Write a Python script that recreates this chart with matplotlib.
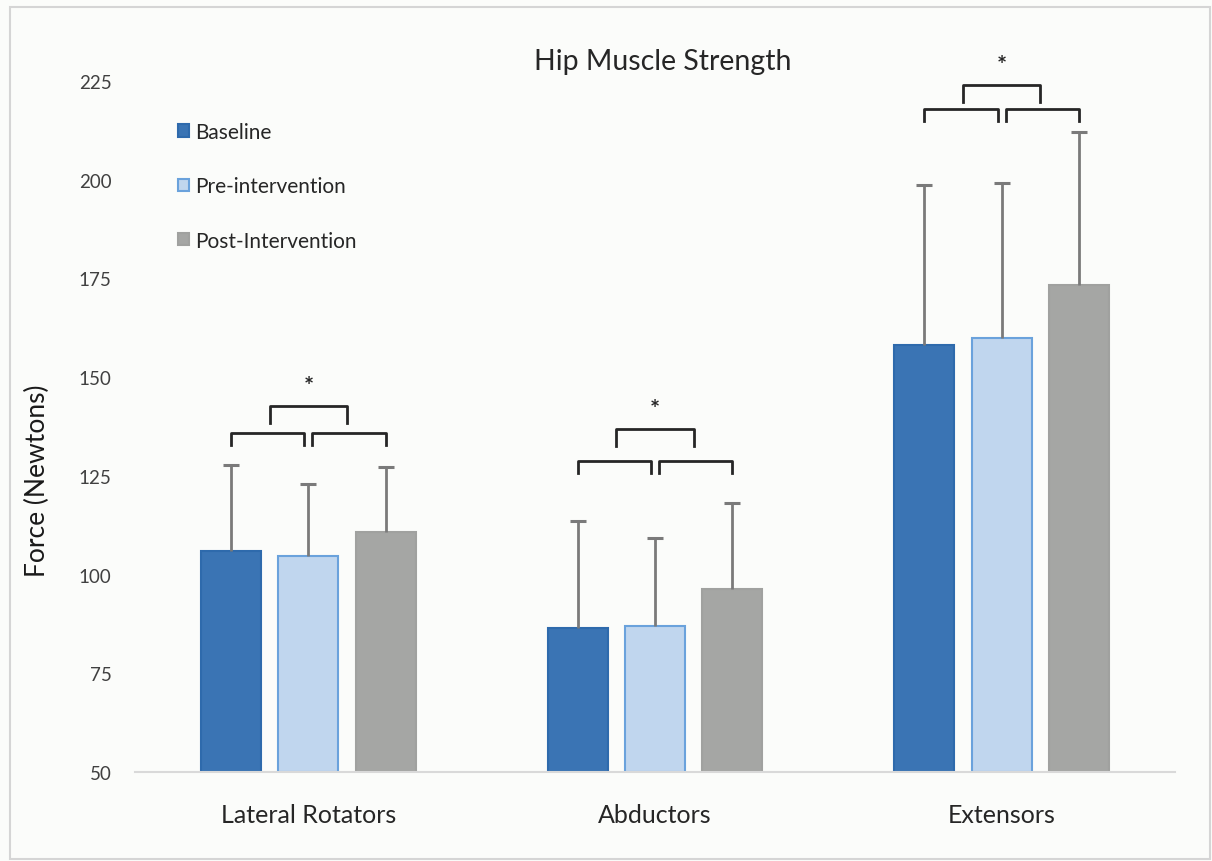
import matplotlib
matplotlib.use("Agg")
import matplotlib.pyplot as plt
from matplotlib.patches import Rectangle
import numpy as np

plt.rcParams['font.family'] = ['Lato', 'DejaVu Sans']

categories = ["Lateral Rotators", "Abductors", "Extensors"]
series = ["Baseline", "Pre-intervention", "Post-Intervention"]
baseline = [106.0, 86.5, 158.2]
pre_int = [104.7, 87.0, 159.9]
post_int = [110.8, 96.4, 173.4]
baseline_err = [21.8, 27.1, 40.5]
pre_err = [18.3, 22.3, 39.3]
post_err = [16.5, 21.7, 38.7]
bracket_low = [135.9, 128.8, 217.9]
bracket_high = [142.7, 136.9, 224.0]
yticks = [50, 75, 100, 125, 150, 175, 200, 225]

fills = ["#3a74b4", "#c0d6ee", "#a5a6a4"]
edges = ["#2e6aac", "#6aa2dc", "#a0a19f"]
bg = "#fbfcfa"

fig = plt.figure(figsize=(12.12, 8.62), dpi=100, facecolor=bg)
ax = fig.add_axes([135/1212, (862-773)/862, (1175-135)/1212, (773-82)/862])
ax.set_facecolor(bg)

x = np.arange(len(categories))
off = 0.223
w = 0.173
vals = [baseline, pre_int, post_int]
errs = [baseline_err, pre_err, post_err]
for i, (v, e) in enumerate(zip(vals, errs)):
    xs = x + (i - 1) * off
    v = np.array(v)
    top = v + np.array(e)
    ax.bar(xs, v - 50, bottom=50, width=w, color=fills[i], edgecolor=edges[i],
           linewidth=1.5, label=series[i], zorder=2)
    ax.vlines(xs, v, top, colors='#7a7a7a', linewidth=2, zorder=3)
    ax.plot(xs, top, linestyle='none', marker='_', markersize=12, markeredgewidth=2.2,
            color='#7a7a7a', zorder=3)

bc = '#262626'
for j in range(3):
    c0, c1, c2 = x[j] - off, x[j], x[j] + off
    yl = bracket_low[j]
    yh = bracket_high[j]
    dl = 3.0
    dh = 4.3
    gap = 0.012
    ax.plot([c0, c0, c1 - gap, c1 - gap], [yl - dl, yl, yl, yl - dl], color=bc, lw=2,
            solid_joinstyle='round', clip_on=False, zorder=4)
    ax.plot([c1 + gap, c1 + gap, c2, c2], [yl - dl, yl, yl, yl - dl], color=bc, lw=2,
            solid_joinstyle='round', clip_on=False, zorder=4)
    m0, m1 = (c0 + c1) / 2, (c1 + c2) / 2
    ax.plot([m0, m0, m1, m1], [yh - dh, yh, yh, yh - dh], color=bc, lw=2,
            solid_joinstyle='round', clip_on=False, zorder=4)
    ax.text(c1, yh + 5.0, "*", ha='center', va='center', fontsize=17, fontweight='bold',
            color='#262626', clip_on=False)

ax.set_xlim(-0.5, 2.5)
ax.set_ylim(50, 225)
ax.set_yticks(yticks)
ax.set_yticklabels([str(t) for t in yticks], fontsize=13.5, color='#404040')
ax.set_xticks(x)
ax.set_xticklabels(categories, fontsize=18, color='#262626')
ax.tick_params(axis='both', length=0)
ax.tick_params(axis='y', pad=17)
ax.tick_params(axis='x', pad=22)
for s in ['top', 'right', 'left']:
    ax.spines[s].set_visible(False)
ax.spines['bottom'].set_color('#d9d9d9')
ax.spines['bottom'].set_linewidth(1.5)

fig.text(37/1212, 1 - 481/862, "Force (Newtons)", rotation=90, ha='center', va='center',
         fontsize=19, color='#1a1a1a')
fig.text(663/1212, 1 - 62/862, "Hip Muscle Strength", ha='center', va='center',
         fontsize=20.5, color='#262626')

leg = ax.legend(loc='upper left', bbox_to_anchor=(0.033, 0.953), frameon=False,
                fontsize=15, handlelength=0.55, handleheight=0.55, handletextpad=0.3,
                labelspacing=1.65, labelcolor='#262626', borderaxespad=0)

fig.add_artist(Rectangle((10/1212, 2/862), 1200/1212, 852/862, transform=fig.transFigure,
                         fill=False, edgecolor='#d5d5d5', lw=1.5))

fig.savefig("out.png", dpi=100, facecolor=bg)
